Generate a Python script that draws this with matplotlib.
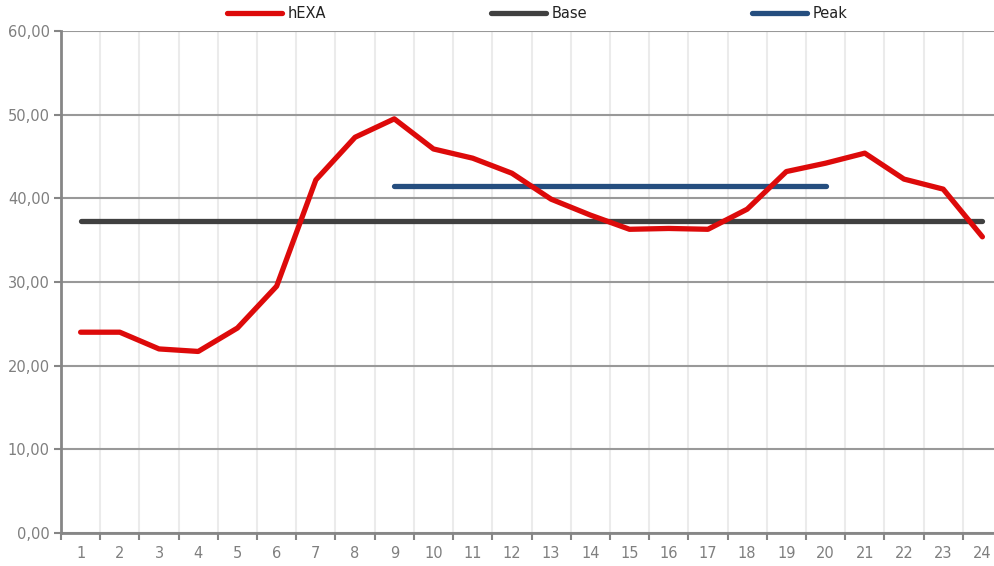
import matplotlib
matplotlib.use("Agg")
import matplotlib.pyplot as plt
from matplotlib.ticker import FixedLocator, FuncFormatter

hours = list(range(1, 25))
hexa = [24.0, 24.0, 22.0, 21.7, 24.5, 29.5, 42.2, 47.3, 49.5, 45.9, 44.8, 43.0,
        39.9, 38.0, 36.3, 36.4, 36.3, 38.7, 43.2, 44.2, 45.4, 42.3, 41.1, 35.4]
base_value = 37.3
peak_value = 41.5
peak_hours = list(range(9, 21))
yticks = [0, 10, 20, 30, 40, 50, 60]

base = [base_value] * len(hours)
peak = [peak_value] * len(peak_hours)

plt.rcParams['font.family'] = ['DejaVu Sans']

fig = plt.figure(figsize=(9.94, 5.66), dpi=100)
W, H = 994, 566
left, right, top, bottom = 61, 1002, 31, 533
ax = fig.add_axes([left / W, 1 - bottom / H, (right - left) / W, (bottom - top) / H])

red = '#DD0A0A'
dark = '#404040'
blue = '#254E7F'
lw = 3.8

ax.plot(hours, hexa, color=red, lw=lw, solid_capstyle='round', solid_joinstyle='round', label='hEXA', zorder=4)
ax.plot(hours, base, color=dark, lw=lw, solid_capstyle='round', label='Base', zorder=3)
ax.plot(peak_hours, peak, color=blue, lw=lw, solid_capstyle='round', label='Peak', zorder=3)

ax.set_xlim(0.5, 24.5)
ax.set_ylim(0, 60)

ax.xaxis.set_major_locator(FixedLocator([h - 0.5 for h in hours] + [24.5]))
ax.xaxis.set_minor_locator(FixedLocator(hours))
ax.xaxis.set_major_formatter(FuncFormatter(lambda v, p: ''))
ax.xaxis.set_minor_formatter(FuncFormatter(lambda v, p: f'{int(round(v))}'))
ax.set_yticks(yticks)
ax.yaxis.set_major_formatter(FuncFormatter(lambda v, p: f'{v:.2f}'.replace('.', ',')))

gray = '#868686'
ax.tick_params(axis='x', which='major', length=5, width=1.5, color=gray, direction='out')
ax.tick_params(axis='x', which='minor', length=0, labelsize=10.5, labelcolor='#7F7F7F', pad=9)
ax.tick_params(axis='y', which='major', length=5, width=1.5, color=gray, labelsize=10.5,
               labelcolor='#7F7F7F', pad=3)

ax.grid(axis='x', which='major', color='#EBEBEB', lw=1.5, zorder=0)
ax.grid(axis='y', which='major', color='#999999', lw=1.5, zorder=1)
ax.set_axisbelow(True)

for s in ['top', 'right']:
    ax.spines[s].set_visible(False)
for s in ['left', 'bottom']:
    ax.spines[s].set_color(gray)
    ax.spines[s].set_linewidth(2)

leg = fig.legend(loc='center', bbox_to_anchor=(537 / W, 1 - 14 / H), ncol=3, frameon=False,
                 fontsize=10.5, handlelength=3.8, handletextpad=0.35, columnspacing=11.3,
                 borderaxespad=0, borderpad=0)
for t in leg.get_texts():
    t.set_color('#222222')

fig.savefig('out.png', dpi=100)
